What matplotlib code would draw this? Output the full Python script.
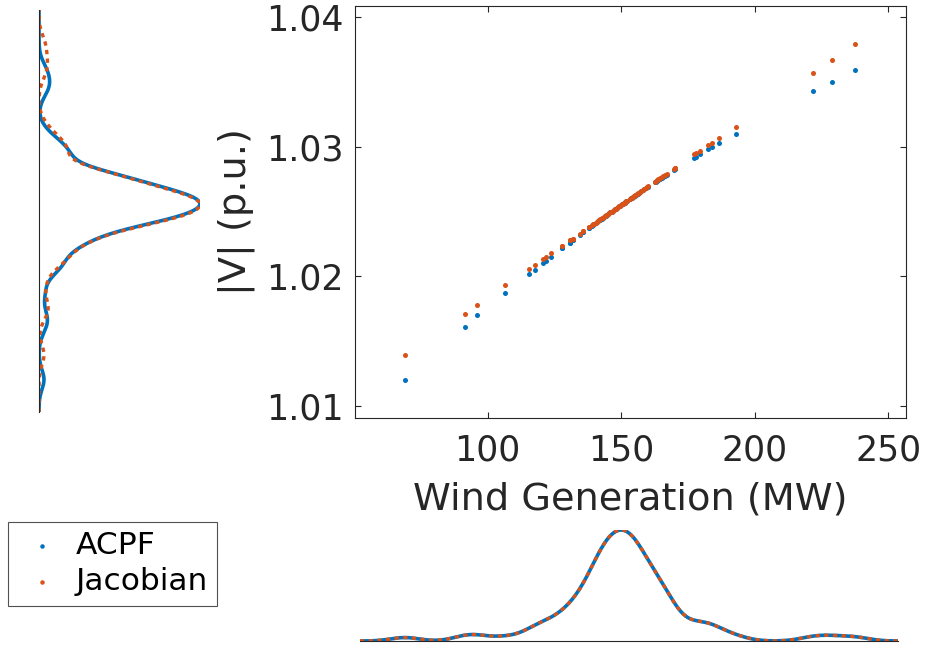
import numpy as np
import matplotlib.pyplot as plt

# wind generation samples (MW); repeated values are overlapping samples
wind = [69.0, 91.5, 96.1, 106.4, 115.5, 117.7, 120.6, 121.7, 123.8,
        127.7, 127.7, 130.8, 130.8, 131.8, 131.8, 134.6, 135.6, 135.6, 137.8, 137.8,
        139.0, 139.5, 139.9,
        140.4, 140.8, 141.3, 141.8, 142.2, 142.7, 143.1, 143.6, 144.0, 144.4, 144.8,
        145.2, 145.6, 146.0, 146.4, 146.8, 147.2, 147.6, 148.0, 148.4, 148.8, 149.2, 149.6, 150.0,
        150.3, 150.7, 151.0, 151.3, 151.6, 151.9, 152.2, 153.3, 153.6, 154.0, 154.3, 154.6, 154.9,
        155.2, 155.5, 155.9, 156.3, 156.7, 157.1, 157.6, 158.1, 158.6, 159.2, 159.8, 160.1,
        162.7, 163.1, 163.5, 163.9, 164.3, 164.7,
        165.2, 165.8, 166.4, 167.0, 169.8, 170.2, 170.2,
        177.4, 178.0, 179.5, 182.4, 184.0, 186.7, 192.9, 221.7, 228.8, 237.6]

# bus voltage magnitude, ACPF
v_acpf = [1.0120, 1.0161, 1.0170, 1.0187, 1.0202, 1.0205, 1.0210, 1.0212, 1.0215,
          1.0222, 1.0222, 1.0226, 1.0226, 1.0228, 1.0228, 1.0232, 1.0234, 1.0234, 1.0237, 1.0237,
          1.02390, 1.02398, 1.02404,
          1.02411, 1.02417, 1.02424, 1.02432, 1.02437, 1.02445, 1.02451, 1.02458, 1.02464, 1.02469, 1.02475,
          1.02481, 1.02487, 1.02493, 1.02498, 1.02504, 1.02510, 1.02516, 1.02522, 1.02527, 1.02533, 1.02539, 1.02544, 1.02550,
          1.02554, 1.02560, 1.02564, 1.02568, 1.02573, 1.02577, 1.02581, 1.02597, 1.02601, 1.02606, 1.02610, 1.02615, 1.02619,
          1.02623, 1.02627, 1.02633, 1.02638, 1.02644, 1.02649, 1.02656, 1.02663, 1.02670, 1.02678, 1.02686, 1.02690,
          1.02725, 1.02731, 1.02737, 1.02742, 1.02747, 1.02753,
          1.02759, 1.02767, 1.02775, 1.02783, 1.02820, 1.02825, 1.02825,
          1.0291, 1.0292, 1.0294, 1.0298, 1.0300, 1.0303, 1.0310, 1.0343, 1.0350, 1.0359]

# bus voltage magnitude, Jacobian approximation
v_jac = [1.0139, 1.0171, 1.0178, 1.0193, 1.0206, 1.0209, 1.0213, 1.0215, 1.0218,
         1.0223, 1.0223, 1.0228, 1.0228, 1.0229, 1.0229, 1.0233, 1.0235, 1.0235, 1.0238, 1.0238,
         1.02394, 1.02401, 1.02407,
         1.02414, 1.02419, 1.02426, 1.02434, 1.02439, 1.02446, 1.02452, 1.02459, 1.02465, 1.02470, 1.02476,
         1.02482, 1.02488, 1.02493, 1.02499, 1.02505, 1.02510, 1.02516, 1.02522, 1.02527, 1.02533, 1.02539, 1.02544, 1.02550,
         1.02554, 1.02560, 1.02564, 1.02568, 1.02573, 1.02577, 1.02581, 1.02597, 1.02601, 1.02607, 1.02611, 1.02615, 1.02620,
         1.02624, 1.02628, 1.02634, 1.02639, 1.02645, 1.02651, 1.02658, 1.02665, 1.02672, 1.02681, 1.02689, 1.02693,
         1.02730, 1.02736, 1.02742, 1.02747, 1.02753, 1.02759,
         1.02766, 1.02774, 1.02783, 1.02791, 1.02831, 1.02837, 1.02837,
         1.0294, 1.0295, 1.0297, 1.0301, 1.0303, 1.0307, 1.0315, 1.0357, 1.0367, 1.0379]

blue = '#0072BD'
orange = '#D95319'
dark = '#262626'
W, H = 925.0, 654.0


def kde(data, grid, bw):
    data = np.asarray(data)
    z = (grid[:, None] - data[None, :]) / bw
    return np.exp(-0.5 * z ** 2).sum(axis=1) / (len(data) * bw * np.sqrt(2 * np.pi))


def box(l, t, r, b):
    return [l / W, 1 - b / H, (r - l) / W, (b - t) / H]


plt.rcParams['font.family'] = 'DejaVu Sans'
fig = plt.figure(figsize=(9.25, 6.54), dpi=100)

# main scatter
ax = fig.add_axes(box(355, 6, 906, 418))
h1 = ax.scatter(wind, v_acpf, s=13, color=blue, linewidths=0, label='ACPF')
h2 = ax.scatter(wind, v_jac, s=13, color=orange, linewidths=0, label='Jacobian')
ax.set_xlim(50.3, 256.7)
ax.set_ylim(1.00907, 1.04085)
ax.set_xticks([100, 150, 200, 250])
ax.set_yticks([1.01, 1.02, 1.03, 1.04])
ax.set_yticklabels(['1.01', '1.02', '1.03', '1.04'])
ax.tick_params(direction='in', length=4, width=0.8, colors=dark, labelsize=25,
               top=True, right=True, pad=8)
ax.tick_params(axis='x', pad=11)
for s in ax.spines.values():
    s.set_color(dark)
    s.set_linewidth(0.8)
ax.set_xlabel('Wind Generation (MW)', fontsize=27.5, color=dark, labelpad=10)
ax.set_ylabel('|V| (p.u.)', fontsize=27.5, color=dark, labelpad=8)

# bottom marginal density of wind
axb = fig.add_axes(box(360, 530, 898, 641))
gx = np.linspace(52.2, 253.6, 300)
dw = kde(wind, gx, 5.3)
axb.plot(gx, dw, color=blue, lw=2.6)
axb.plot(gx, dw, color=orange, lw=2.4, linestyle=(0, (1.3, 1.3)))
axb.set_xlim(gx[0], gx[-1])
axb.set_ylim(0, dw.max())
for k in ['top', 'left', 'right']:
    axb.spines[k].set_visible(False)
axb.spines['bottom'].set_color(dark)
axb.spines['bottom'].set_linewidth(0.8)
axb.set_xticks([])
axb.set_yticks([])
axb.patch.set_alpha(0)

# left marginal density of voltage
axl = fig.add_axes(box(39, 10, 200, 412))
gy = np.linspace(1.0095, 1.0405, 300)
da = kde(v_acpf, gy, 0.00075)
dj = kde(v_jac, gy, 0.00075)
axl.plot(da, gy, color=blue, lw=2.6)
axl.plot(dj, gy, color=orange, lw=2.4, linestyle=(0, (1.3, 1.3)))
axl.set_ylim(gy[0], gy[-1])
axl.set_xlim(0, max(da.max(), dj.max()))
for k in ['top', 'bottom', 'right']:
    axl.spines[k].set_visible(False)
axl.spines['left'].set_color(dark)
axl.spines['left'].set_linewidth(0.8)
axl.set_xticks([])
axl.set_yticks([])
axl.patch.set_alpha(0)

leg = fig.legend([h1, h2], ['ACPF', 'Jacobian'], loc='upper left',
                 bbox_to_anchor=(8 / W, 1 - 522 / H), fontsize=22.5, frameon=True,
                 fancybox=False, edgecolor=dark, borderaxespad=0, markerscale=0.9,
                 handlelength=1.6, handletextpad=0.27, borderpad=0.3, labelspacing=0.22)
leg.get_frame().set_linewidth(0.8)

fig.savefig('out.png', dpi=100)
